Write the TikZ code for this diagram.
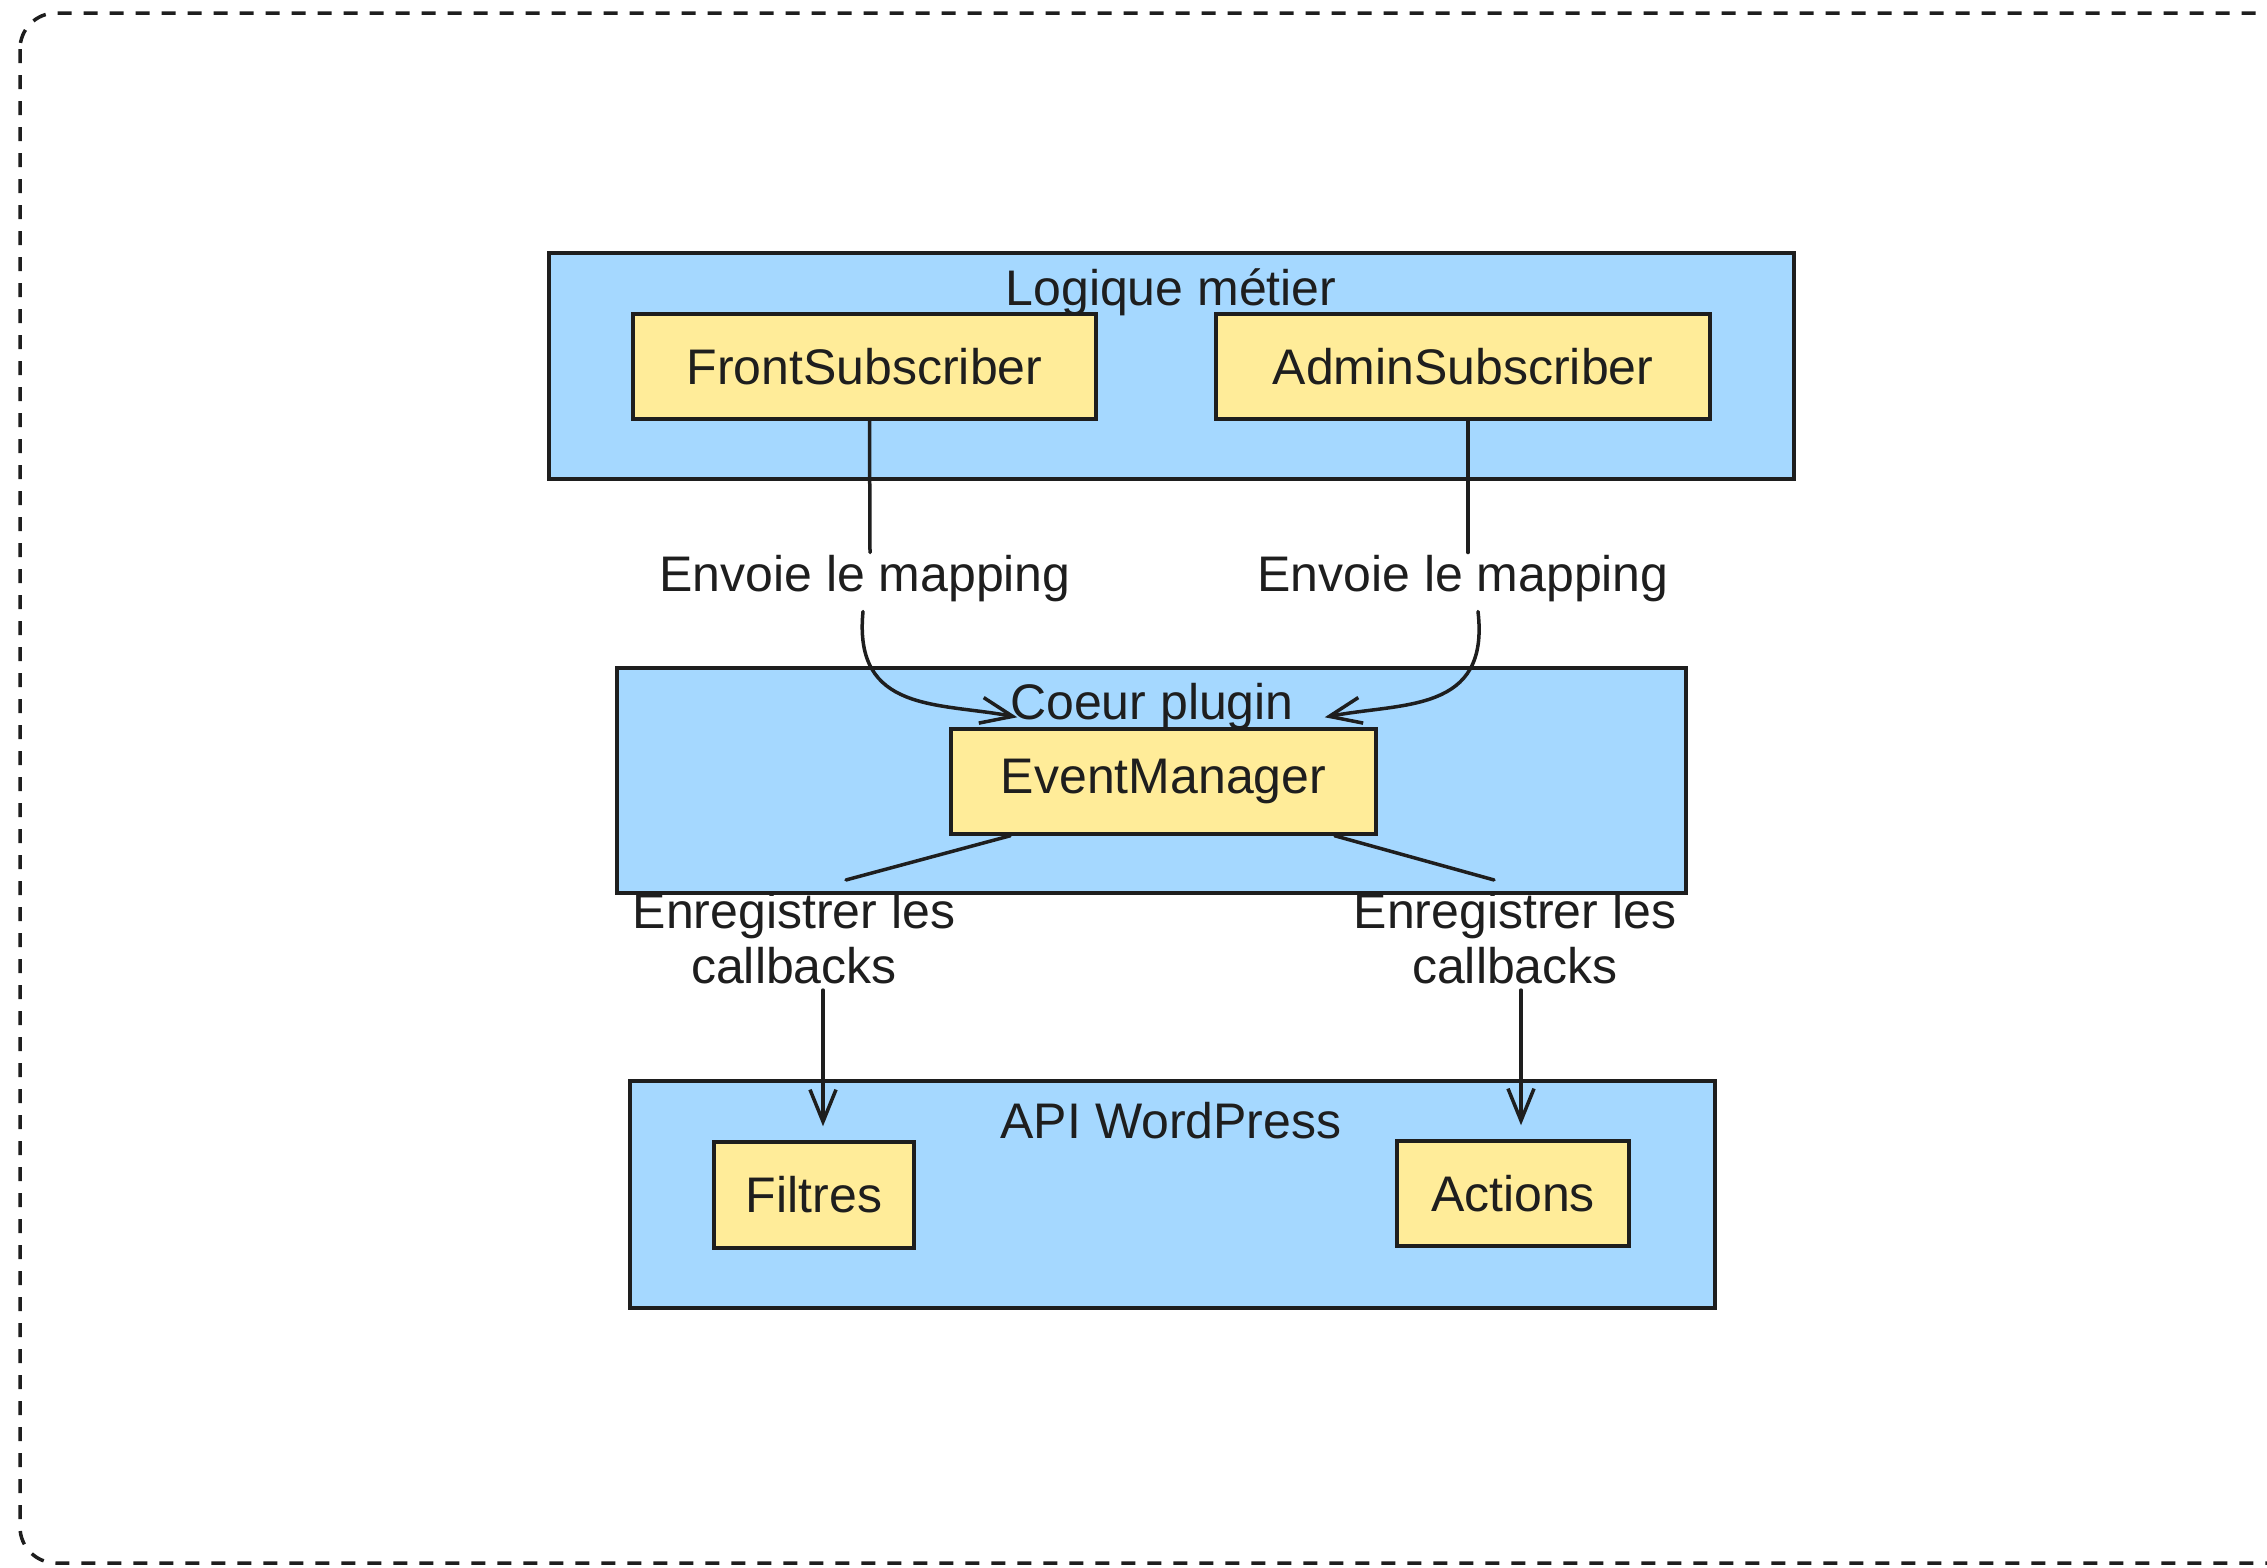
\documentclass[tikz,border=0pt]{standalone}
\usepackage{fontspec}
\setmainfont{Liberation Sans}
\usetikzlibrary{arrows.meta,calc}
\definecolor{boxblue}{HTML}{A5D8FF}
\definecolor{boxyellow}{HTML}{FFEC99}
\definecolor{ink}{HTML}{1E1E1E}
\begin{document}
\begin{tikzpicture}[x=1pt,y=-1pt,
  group/.style={draw=ink,fill=boxblue,line width=3.5pt,inner sep=0pt},
  item/.style={draw=ink,fill=boxyellow,line width=3.5pt,inner sep=0pt,font=\fontsize{50}{55}\selectfont,text=ink},
  glabel/.style={font=\fontsize{50}{55}\selectfont,text=ink,inner sep=0pt},
  elabel/.style={font=\fontsize{50}{55}\selectfont,text=ink,align=center,inner sep=6pt},
  conn/.style={draw=ink,line width=3.5pt,line cap=round},
  arr/.style={conn,-{Straight Barb[length=32pt,width=26pt,line width=3.5pt]}},
  frame/.style={draw=ink,line width=3.5pt,dash pattern=on 14pt off 12pt,rounded corners=36pt}]
\useasboundingbox (0,0) rectangle (2267,1567);
\fill[white] (0,0) rectangle (2267,1567);
\draw[frame] (20,13) rectangle (2320,1563);

% groups
\node[group,minimum width=1245pt,minimum height=226pt] (logic) at (1171.5,366) {};
\node[glabel] (logiclbl) at (1171,292) {Logique métier};
\node[group,minimum width=1069pt,minimum height=225pt] (core) at (1151.5,780.5) {};
\node[glabel] (corelbl) at (1152,707) {Coeur plugin};
\node[group,minimum width=1085pt,minimum height=227pt] (api) at (1172.5,1194.5) {};
\node[glabel] (apilbl) at (1171,1121) {API WordPress};

% items
\node[item,minimum width=463pt,minimum height=105pt] (front) at (864.5,366.5) {FrontSubscriber};
\node[item,minimum width=494pt,minimum height=105pt] (admin) at (1463,366.5) {AdminSubscriber};
\node[item,minimum width=425pt,minimum height=105pt] (em) at (1163.5,781.5) {EventManager};
\node[item,minimum width=200pt,minimum height=106pt] (filtres) at (814,1195) {Filtres};
\node[item,minimum width=232pt,minimum height=105pt] (actions) at (1513,1193.5) {Actions};

% edge labels
\node[elabel] (m1) at (865,579) {Envoie le mapping};
\node[elabel] (m2) at (1463,579) {Envoie le mapping};
\node[elabel] (r1) at (794,938) {Enregistrer les\\callbacks};
\node[elabel] (r2) at (1515,938) {Enregistrer les\\callbacks};

% Envoie le mapping connectors
\draw[conn] ([xshift=5pt]front.south) -- ([xshift=5pt,yshift=-3pt]m1.north);
\draw[arr] ([xshift=-2pt,yshift=-3pt]m1.south) .. controls ($(m1.south)+(-12,105)$) and ($(em.north west)+(-10,-25)$) .. ([xshift=68pt,yshift=10pt]em.north west);
\draw[conn] ([xshift=5pt]admin.south) -- ([xshift=5pt,yshift=-3pt]m2.north);
\draw[arr] ([xshift=15pt,yshift=-3pt]m2.south) .. controls ($(m2.south)+(27,105)$) and ($(em.north east)+(25,-25)$) .. ([xshift=-53pt,yshift=10pt]em.north east);

% Enregistrer les callbacks connectors
\draw[conn] ([xshift=61pt]em.south west) -- ([xshift=52pt,yshift=6pt]r1.north);
\draw[arr] ([xshift=29pt]r1.south) -- ([xshift=9pt,yshift=14pt]filtres.north);
\draw[conn] ([xshift=-43pt]em.south east) -- ([xshift=-21pt,yshift=6pt]r2.north);
\draw[arr] ([xshift=6pt]r2.south) -- ([xshift=8pt,yshift=14pt]actions.north);
\end{tikzpicture}
\end{document}
